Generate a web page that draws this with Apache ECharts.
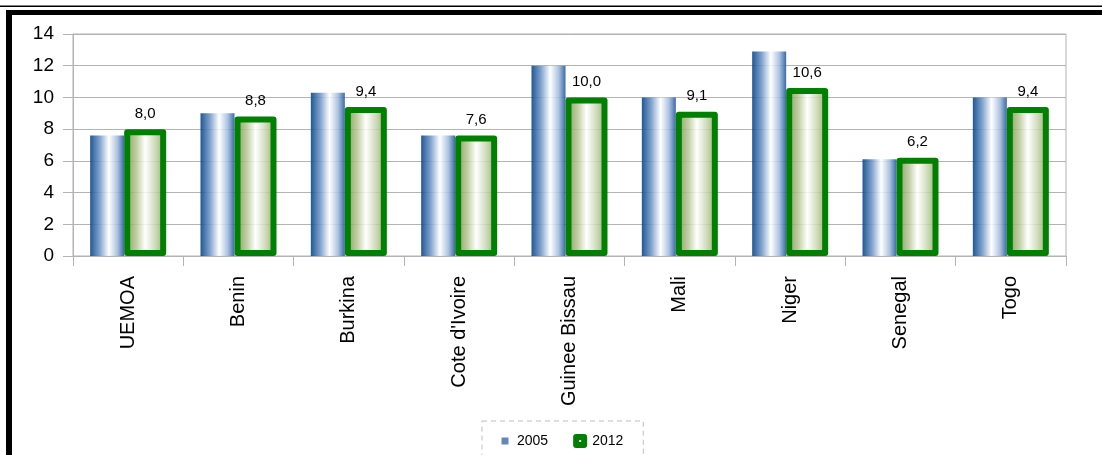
<!DOCTYPE html>
<html>
<head>
<meta charset="utf-8">
<script src="https://cdn.jsdelivr.net/npm/echarts@6/dist/echarts.min.js"></script>
<style>
  html, body { margin: 0; padding: 0; background: #ffffff; }
  #chart { width: 1102px; height: 455px; }
</style>
</head>
<body>
<div id="chart"></div>
<script>
// Categories and values per year
const categories = ['UEMOA', 'Benin', 'Burkina', "Cote d'Ivoire", 'Guinee Bissau', 'Mali', 'Niger', 'Senegal', 'Togo'];
const values2005 = [7.6, 9.0, 10.3, 7.6, 12.0, 10.0, 12.9, 6.1, 10.0];
const values2012 = [8.0, 8.8, 9.4, 7.6, 10.0, 9.1, 10.6, 6.2, 9.4];
const seriesNames = ['2005', '2012'];
const yMin = 0, yMax = 14, yStep = 2;

const FONT = '"Liberation Sans", Arial, sans-serif';
const GRID_GRAY = '#b3b3b3';

// Cylinder-like horizontal shading for both series
const blueStops = [
  { offset: 0, color: 'rgba(8,70,138,0.9)' },
  { offset: 0.28, color: 'rgba(112,150,198,0.88)' },
  { offset: 0.55, color: 'rgba(255,255,255,0.85)' },
  { offset: 0.8, color: 'rgba(160,186,220,0.88)' },
  { offset: 1, color: 'rgba(38,90,158,0.9)' }
];
const greenStops = [
  { offset: 0, color: 'rgba(110,138,62,0.88)' },
  { offset: 0.3, color: 'rgba(184,200,150,0.86)' },
  { offset: 0.5, color: 'rgba(255,255,255,0.85)' },
  { offset: 0.75, color: 'rgba(196,211,170,0.86)' },
  { offset: 1, color: 'rgba(128,154,84,0.88)' }
];
const blueFill = new echarts.graphic.LinearGradient(0, 0, 1, 0, blueStops);
const greenFill = new echarts.graphic.LinearGradient(0, 0, 1, 0, greenStops);

const fmt = v => v.toFixed(1).replace('.', ',');

const chart = echarts.init(document.getElementById('chart'), null, { renderer: 'canvas' });
chart.setOption({
  backgroundColor: '#ffffff',
  animation: false,
  graphic: [
    // page frame lines
    { type: 'rect', shape: { x: 0, y: 5.5, width: 1102, height: 1.5 }, style: { fill: '#000' }, silent: true },
    { type: 'rect', shape: { x: 6, y: 10, width: 1096, height: 5 }, style: { fill: '#000' }, silent: true },
    { type: 'rect', shape: { x: 6, y: 10, width: 6, height: 445 }, style: { fill: '#000' }, silent: true }
  ],
  grid: {
    left: 73, right: 36, top: 34, bottom: 199,
    show: true, borderColor: GRID_GRAY, borderWidth: 1, backgroundColor: 'transparent'
  },
  legend: {
    left: 482, top: 421,
    orient: 'horizontal',
    itemWidth: 14, itemHeight: 14, itemGap: 22,
    padding: [10, 20, 12, 16],
    borderColor: '#bdbdbd', borderWidth: 1, borderType: [5, 4],
    textStyle: { fontFamily: FONT, fontSize: 14, color: '#000' },
    data: [
      { name: '2005', icon: 'path://M0,0M14,14M3.5,3.5h7v7h-7z',
        itemStyle: { color: '#5f88bd', borderWidth: 0, opacity: 1 } },
      { name: '2012', icon: 'path://M0,0M14,14M3,3h8v8h-8z',
        itemStyle: { color: '#f4f7ee', borderColor: '#008000', borderWidth: 6, borderJoin: 'round' } }
    ]
  },
  xAxis: {
    type: 'category',
    data: categories,
    boundaryGap: true,
    axisLine: { show: true, lineStyle: { color: GRID_GRAY, width: 1 } },
    axisTick: { show: true, length: 10, lineStyle: { color: GRID_GRAY } },
    axisLabel: { rotate: 90, margin: 20, fontFamily: FONT, fontSize: 20, color: '#000', interval: 0 },
    splitLine: { show: false }
  },
  yAxis: {
    type: 'value',
    min: yMin, max: yMax, interval: yStep,
    axisLine: { show: true, lineStyle: { color: GRID_GRAY, width: 1 } },
    axisTick: { show: true, length: 10, lineStyle: { color: GRID_GRAY } },
    axisLabel: { margin: 19, fontFamily: FONT, fontSize: 19, color: '#000' },
    splitLine: { show: true, lineStyle: { color: GRID_GRAY, width: 1 } }
  },
  series: [
    {
      name: seriesNames[0],
      type: 'bar',
      data: values2005,
      barWidth: 34,
      barGap: '0%',
      itemStyle: { color: blueFill },
      z: 2
    },
    {
      name: seriesNames[1],
      type: 'bar',
      data: values2012,
      barWidth: 42,
      barGap: '0%',
      itemStyle: { color: greenFill, borderColor: '#008000', borderWidth: 6, borderJoin: 'round' },
      label: {
        show: true, position: 'top', distance: 8,
        fontFamily: FONT, fontSize: 15, color: '#000',
        formatter: p => fmt(p.value)
      },
      z: 3
    }
  ]
});
</script>
</body>
</html>
